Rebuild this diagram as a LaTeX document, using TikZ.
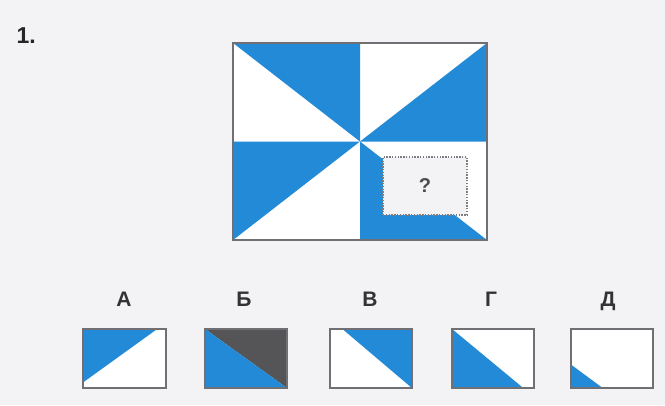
\documentclass[tikz,border=0pt]{standalone}
\usepackage{fontspec}
\setmainfont{Liberation Sans}
\usetikzlibrary{calc}
\definecolor{tileblue}{RGB}{34,138,214}
\definecolor{tilegrey}{RGB}{85,85,88}
\definecolor{edgegrey}{RGB}{112,112,116}
\definecolor{paper}{RGB}{243,243,246}

\begin{document}
\begin{tikzpicture}[x=1pt,y=-1pt,
        % one pixel of the reference is one point here, y downwards
            board/.style={inner sep=0pt, fill=white,
            minimum width=254pt, minimum height=197pt},
            choice/.style={inner sep=0pt, fill=white,
            minimum width=82pt, minimum height=59pt},
            frame/.style={draw=edgegrey, line width=1.8pt},
            gap/.style={draw=edgegrey!90, dash pattern=on 1.4pt off 1.4pt, line width=1.6pt, fill=paper,
            minimum width=84pt, minimum height=58pt,
            font=\fontsize{20}{20}\selectfont\bfseries, text=black!70},
            letter/.style={anchor=base, font=\fontsize{21}{21}\selectfont\bfseries, text=black!80},
            wedge/.style={fill=tileblue}
        ]
% --- page ---
            \fill[paper] (0,0) rectangle (665,405);
            \useasboundingbox (0,0) rectangle (665,405);
            \node[anchor=base west, font=\fontsize{23}{23}\selectfont\bfseries, text=black!85] (num) at (13,43) {1.};

% --- puzzle board ---
            \node[board] (main) at (360,141.5) {};
            \fill[wedge] (main.north west) -- (main.north) -- (main.center) -- cycle;
            \fill[wedge] (main.north east) -- (main.east) -- (main.center) -- cycle;
            \fill[wedge] (main.west) -- (main.south west) -- (main.center) -- cycle;
            \fill[wedge] (main.south) -- (main.south east) -- (main.center) -- cycle;
            \draw[frame] (main.north west) rectangle (main.south east);
            \node[gap] (hole) at (425,186) {?};

% --- answer choices ---
            \node[choice] (optA) at (124.5,358.5) {};
            \node[choice] (optB) at (246,358.5) {};
            \node[choice] (optC) at (371,358.5) {};
            \node[choice] (optD) at (493,358.5) {};
            \node[choice] (optE) at (612,358.5) {};

            \fill[wedge] (optA.north west) -- ($(optA.north west)!0.9!(optA.north east)$)
                -- ($(optA.south west)!0.1!(optA.north west)$) -- cycle;
            \fill[tilegrey] (optB.north west) -- (optB.north east) -- (optB.south east) -- cycle;
            \fill[wedge] (optB.north west) -- (optB.south west) -- (optB.south east) -- cycle;
            \fill[wedge] ($(optC.north west)!0.15!(optC.north east)$) -- (optC.north east)
                -- (optC.south east) -- cycle;
            \fill[wedge] (optD.north west) -- (optD.south west)
                -- ($(optD.south west)!0.87!(optD.south east)$) -- cycle;
            \fill[wedge] ($(optE.north west)!0.6!(optE.south west)$) -- (optE.south west)
                -- ($(optE.south west)!0.39!(optE.south east)$) -- cycle;
            \foreach \o in {optA,optB,optC,optD,optE}
                \draw[frame] (\o.north west) rectangle (\o.south east);

% --- choice letters ---
            \node[letter] (labA) at (124,306) {А};
            \node[letter] (labB) at (244,306) {Б};
            \node[letter] (labC) at (370,306) {В};
            \node[letter] (labD) at (491,306) {Г};
            \node[letter] (labE) at (608,306) {Д};
        \end{tikzpicture}
\end{document}
